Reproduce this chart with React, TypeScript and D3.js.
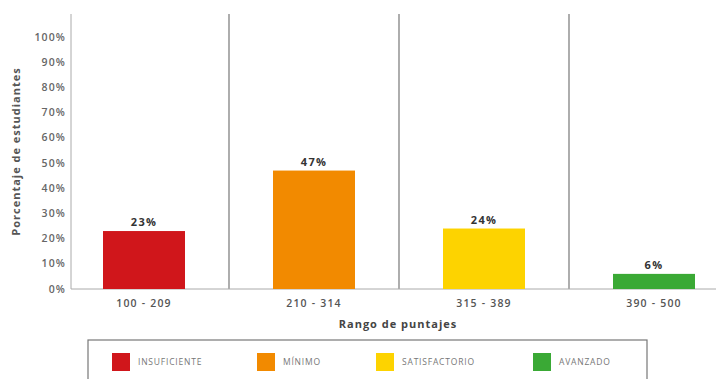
import React from "react";
import * as d3 from "d3";

const categories = ["100 - 209", "210 - 314", "315 - 389", "390 - 500"];
const values = [23, 47, 24, 6];
const levels = ["INSUFICIENTE", "MÍNIMO", "SATISFACTORIO", "AVANZADO"];
const colors = ["#d0161b", "#f28a00", "#fdd300", "#3aa935"];
const yTicks = [0, 10, 20, 30, 40, 50, 60, 70, 80, 90, 100];

const W = 716;
const H = 379;
const top = 14;
const base = 289;
const axisX = 71;

export default function App() {
  const x = d3.scaleBand<string>().domain(categories).range([59, 739]).padding(0);
  const y = d3.scaleLinear().domain([0, 100]).range([base, 37]);
  const barW = 82;
  const legendX = [112, 257, 376, 533];
  const font = "'Open Sans', 'DejaVu Sans', sans-serif";
  return (
    <svg width={W} height={H} style={{ position: "absolute", left: 0, top: 0, background: "#fff" }} fontFamily={font}>
      <rect x={0} y={0} width={W} height={H} fill="#fff" />
      {categories.slice(1).map((c) => (
        <line key={c} x1={x(c)!} x2={x(c)!} y1={top} y2={base} stroke="#777" strokeWidth={1.2} />
      ))}
      <line x1={axisX} x2={axisX} y1={top} y2={base} stroke="#aaa" strokeWidth={1} />
      <line x1={axisX} x2={W} y1={base} y2={base} stroke="#aaa" strokeWidth={1} />
      {yTicks.map((t) => (
        <text key={t} x={66} y={y(t)} dy="0.35em" textAnchor="end" fontSize={10.5} letterSpacing={1.1} fill="#666" fontWeight={600}>
          {t}%
        </text>
      ))}
      <text
        transform={`translate(20,${(top + base) / 2}) rotate(-90)`}
        textAnchor="middle"
        fontSize={11}
        letterSpacing={1}
        fontWeight={700}
        fill="#555"
      >
        Porcentaje de estudiantes
      </text>
      {categories.map((c, i) => {
        const cx = x(c)! + x.bandwidth() / 2;
        return (
          <g key={c}>
            <rect x={cx - barW / 2} y={y(values[i])} width={barW} height={base - y(values[i])} fill={colors[i]} />
            <text x={cx} y={y(values[i]) - 5} textAnchor="middle" fontSize={11} letterSpacing={1.3} fontWeight={700} fill="#333">
              {values[i]}%
            </text>
            <text x={cx} y={303} dy="0.35em" textAnchor="middle" fontSize={10.5} letterSpacing={1.2} fill="#555" fontWeight={600}>
              {c}
            </text>
          </g>
        );
      })}
      <text x={398} y={324} dy="0.35em" textAnchor="middle" fontSize={11} letterSpacing={1} fontWeight={700} fill="#444">
        Rango de puntajes
      </text>
      <rect x={88} y={340} width={559} height={60} fill="#fff" stroke="#777" strokeWidth={1.2} />
      {levels.map((l, i) => (
        <g key={l}>
          <rect x={legendX[i]} y={353} width={18} height={18} fill={colors[i]} />
          <text x={legendX[i] + 26} y={362} dy="0.35em" fontSize={8.5} letterSpacing={0.8} fill="#777">
            {l}
          </text>
        </g>
      ))}
    </svg>
  );
}
